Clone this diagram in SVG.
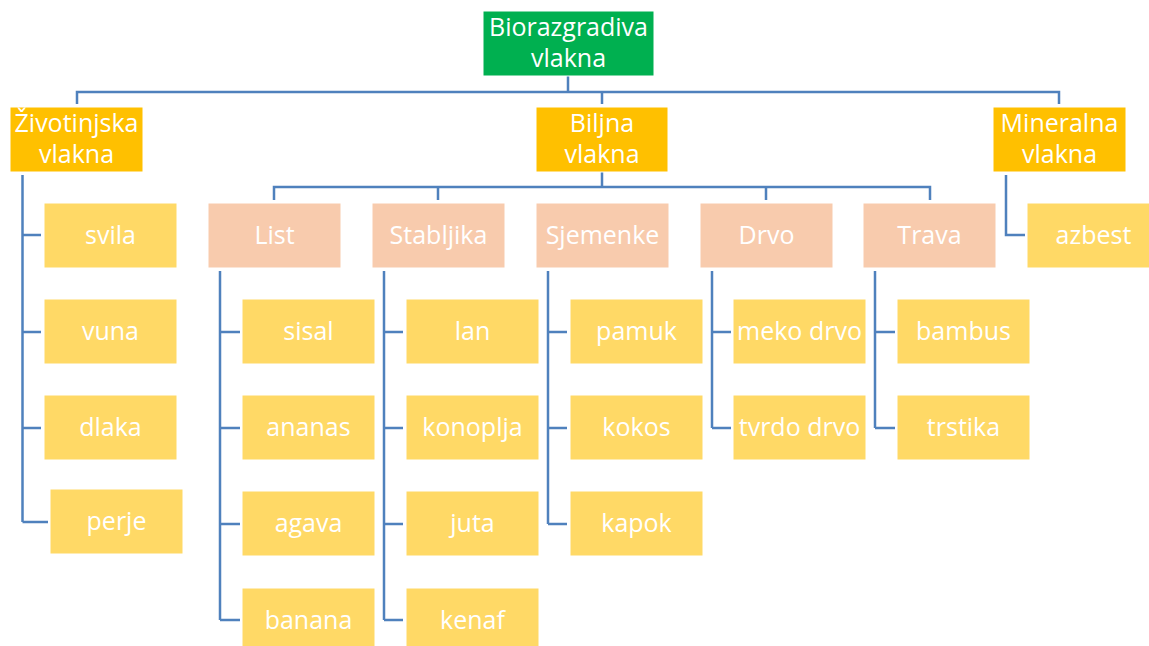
<svg xmlns="http://www.w3.org/2000/svg" width="1149" height="646" viewBox="0 0 1149 646">
<style>
text{font-family:"Open Sans","Noto Sans","Liberation Sans",sans-serif;font-size:25px;fill:#fff;text-anchor:middle}
rect{stroke:#fff;stroke-width:1}
.root{fill:#00B050}
.main{fill:#FFC000}
.cat{fill:#F8CBAD}
.leaf{fill:#FFD966}
#connectors path{fill:none;stroke:#4F81BD;stroke-width:2.5}
</style>
<rect width="1149" height="646" fill="#fff" stroke="none"/>
<g id="connectors">
<path d="M568,76V92M77,104V92H1059V104M602,92V104"/>
<path d="M602,172V187M274,200V187H930V200M438,187V200M766,187V200"/>
<path d="M22.5,175V522M22.5,235H41M22.5,332H41M22.5,428H41M22.5,522H48"/>
<path d="M1006,175V235H1025"/>
<path d="M220,271V620M220,332H240M220,428H240M220,524H240M220,620H240"/>
<path d="M384,271V620M384,332H403M384,428H403M384,524H403M384,620H403"/>
<path d="M548,271V524M548,332H567M548,428H567M548,524H567"/>
<path d="M712,271V428M712,332H731M712,428H731"/>
<path d="M875,271V428M875,332H895M875,428H895"/>
</g>
<g id="n-root"><rect class="root" x="483" y="11" width="171" height="65"/><text x="568.5" y="35.5">Biorazgradiva</text><text x="568.5" y="66.5">vlakna</text></g>
<g id="n-zivotinjska"><rect class="main" x="10" y="107" width="133" height="65"/><text x="76.5" y="132">Životinjska</text><text x="76.5" y="163">vlakna</text></g>
<g id="n-biljna"><rect class="main" x="536" y="107" width="132" height="65"/><text x="602" y="132">Biljna</text><text x="602" y="163">vlakna</text></g>
<g id="n-mineralna"><rect class="main" x="993" y="107" width="133" height="65"/><text x="1059.5" y="132">Mineralna</text><text x="1059.5" y="163">vlakna</text></g>
<g id="n-list"><rect class="cat" x="208" y="203" width="133" height="65"/><text x="274.5" y="244">List</text></g>
<g id="n-stabljika"><rect class="cat" x="372" y="203" width="133" height="65"/><text x="438.5" y="244">Stabljika</text></g>
<g id="n-sjemenke"><rect class="cat" x="536" y="203" width="133" height="65"/><text x="602.5" y="244">Sjemenke</text></g>
<g id="n-drvo"><rect class="cat" x="700" y="203" width="133" height="65"/><text x="766.5" y="244">Drvo</text></g>
<g id="n-trava"><rect class="cat" x="863" y="203" width="133" height="65"/><text x="929.5" y="244">Trava</text></g>
<g id="n-azbest"><rect class="leaf" x="1027" y="203" width="133" height="65"/><text x="1093.5" y="244">azbest</text></g>
<g id="n-svila"><rect class="leaf" x="44" y="203" width="133" height="65"/><text x="110.5" y="244">svila</text></g>
<g id="n-vuna"><rect class="leaf" x="44" y="299" width="133" height="65"/><text x="110.5" y="340">vuna</text></g>
<g id="n-dlaka"><rect class="leaf" x="44" y="395" width="133" height="65"/><text x="110.5" y="436">dlaka</text></g>
<g id="n-perje"><rect class="leaf" x="50" y="489" width="133" height="65"/><text x="116.5" y="530">perje</text></g>
<g id="n-sisal"><rect class="leaf" x="242" y="299" width="133" height="65"/><text x="308.5" y="340">sisal</text></g>
<g id="n-ananas"><rect class="leaf" x="242" y="395" width="133" height="65"/><text x="308.5" y="436">ananas</text></g>
<g id="n-agava"><rect class="leaf" x="242" y="491" width="133" height="65"/><text x="308.5" y="532">agava</text></g>
<g id="n-banana"><rect class="leaf" x="242" y="588" width="133" height="65"/><text x="308.5" y="629">banana</text></g>
<g id="n-lan"><rect class="leaf" x="406" y="299" width="133" height="65"/><text x="472.5" y="340">lan</text></g>
<g id="n-konoplja"><rect class="leaf" x="406" y="395" width="133" height="65"/><text x="472.5" y="436">konoplja</text></g>
<g id="n-juta"><rect class="leaf" x="406" y="491" width="133" height="65"/><text x="472.5" y="532">juta</text></g>
<g id="n-kenaf"><rect class="leaf" x="406" y="588" width="133" height="65"/><text x="472.5" y="629">kenaf</text></g>
<g id="n-pamuk"><rect class="leaf" x="570" y="299" width="133" height="65"/><text x="636.5" y="340">pamuk</text></g>
<g id="n-kokos"><rect class="leaf" x="570" y="395" width="133" height="65"/><text x="636.5" y="436">kokos</text></g>
<g id="n-kapok"><rect class="leaf" x="570" y="491" width="133" height="65"/><text x="636.5" y="532">kapok</text></g>
<g id="n-meko"><rect class="leaf" x="733" y="299" width="133" height="65"/><text x="799.5" y="340">meko drvo</text></g>
<g id="n-tvrdo"><rect class="leaf" x="733" y="395" width="133" height="65"/><text x="799.5" y="436">tvrdo drvo</text></g>
<g id="n-bambus"><rect class="leaf" x="897" y="299" width="133" height="65"/><text x="963.5" y="340">bambus</text></g>
<g id="n-trstika"><rect class="leaf" x="897" y="395" width="133" height="65"/><text x="963.5" y="436">trstika</text></g>
</svg>
